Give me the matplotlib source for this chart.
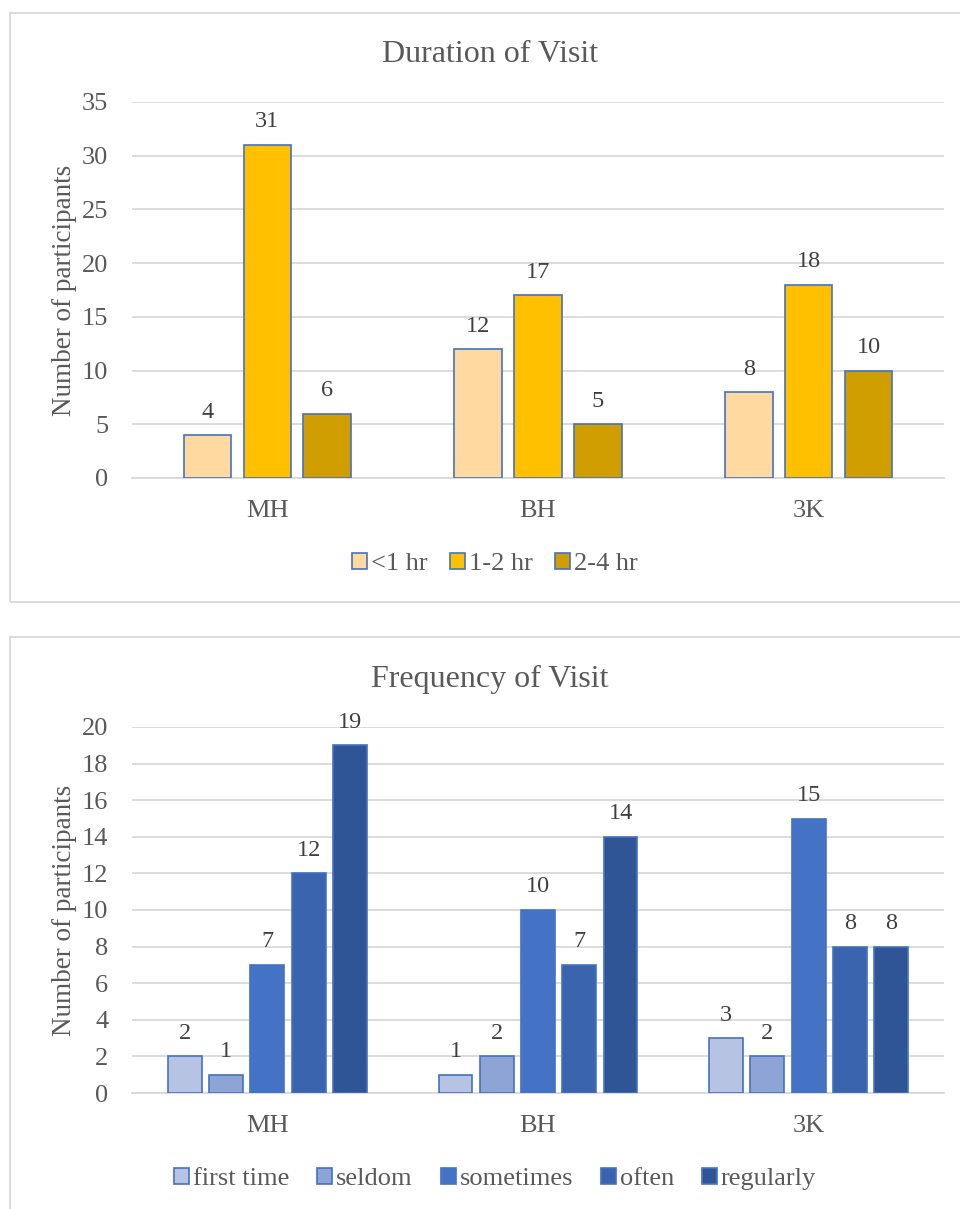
import numpy as np
import matplotlib.pyplot as plt
from matplotlib.patches import Rectangle

plt.rcParams['font.family'] = ['Liberation Serif', 'DejaVu Serif']

sites = ['MH', 'BH', '3K']

dur_labels = ['<1 hr', '1-2 hr', '2-4 hr']
dur_lt1 = [4, 12, 8]
dur_1to2 = [31, 17, 18]
dur_2to4 = [6, 5, 10]
dur_colors = ['#FFD9A0', '#FFC000', '#D19E00']

freq_labels = ['first time', 'seldom', 'sometimes', 'often', 'regularly']
freq_first = [2, 1, 3]
freq_seldom = [1, 2, 2]
freq_sometimes = [7, 10, 15]
freq_often = [12, 7, 8]
freq_regular = [19, 14, 8]
freq_colors = ['#B7C3E3', '#8EA4D4', '#4472C4', '#3A64AE', '#2F5597']

txt = '#595959'
W, H = 960, 1209
fig = plt.figure(figsize=(W / 100, H / 100), dpi=100)

# chart frames
for top, bot in [(13, 602), (637, 1215)]:
    fig.add_artist(Rectangle((10 / W, 1 - bot / H), 960 / W, (bot - top) / H,
                             transform=fig.transFigure, fill=False,
                             edgecolor='#D9D9D9', lw=1.3))


def draw(ax, series, labels, colors, width, step, ymax, ystep, title,
         title_y, leg_y, colsp):
    x = np.arange(len(sites))
    n = len(series)
    for i, (vals, lab, c) in enumerate(zip(series, labels, colors)):
        pos = x + (i - (n - 1) / 2) * step
        bars = ax.bar(pos, vals, width, color=c, edgecolor='#4472C4', lw=1.2,
                      label=lab, zorder=3)
        ax.bar_label(bars, padding=9, fontsize=17.5, color='#404040')
    ax.set_xlim(-0.5, len(sites) - 0.5)
    ax.set_ylim(0, ymax)
    ax.set_yticks(np.arange(0, ymax + 1, ystep))
    ax.set_xticks(x)
    ax.set_xticklabels(sites)
    ax.tick_params(length=0, labelsize=19, colors=txt)
    ax.tick_params(axis='y', pad=17)
    ax.tick_params(axis='x', pad=16)
    ax.grid(axis='y', color='#D9D9D9', lw=1.3, zorder=0)
    for s in ['top', 'right', 'left']:
        ax.spines[s].set_visible(False)
    ax.spines['bottom'].set_color('#D9D9D9')
    ax.spines['bottom'].set_linewidth(1.3)
    ax.set_ylabel('Number of participants', fontsize=19.5, color=txt)
    ax.yaxis.set_label_coords(-0.068, 0.5)
    fig.text(490 / W, 1 - title_y / H, title, fontsize=23, color=txt,
             ha='center', va='center')
    fig.legend(*ax.get_legend_handles_labels(), loc='center',
               bbox_to_anchor=(495 / W, 1 - leg_y / H), ncol=n,
               frameon=False, fontsize=19, labelcolor=txt, handlelength=0.57,
               handleheight=0.57, handletextpad=0.15, columnspacing=colsp)


ax1 = fig.add_axes([132 / W, 1 - 478 / H, 812 / W, 376 / H])
draw(ax1, [dur_lt1, dur_1to2, dur_2to4], dur_labels, dur_colors,
     0.175, 0.221, 35, 5, 'Duration of Visit', 54, 564, 0.85)

ax2 = fig.add_axes([132 / W, 1 - 1093 / H, 812 / W, 366 / H])
draw(ax2, [freq_first, freq_seldom, freq_sometimes, freq_often, freq_regular],
     freq_labels, freq_colors, 0.125, 0.1525, 20, 2, 'Frequency of Visit',
     679, 1179, 1.05)

fig.savefig('out.png', dpi=100)
